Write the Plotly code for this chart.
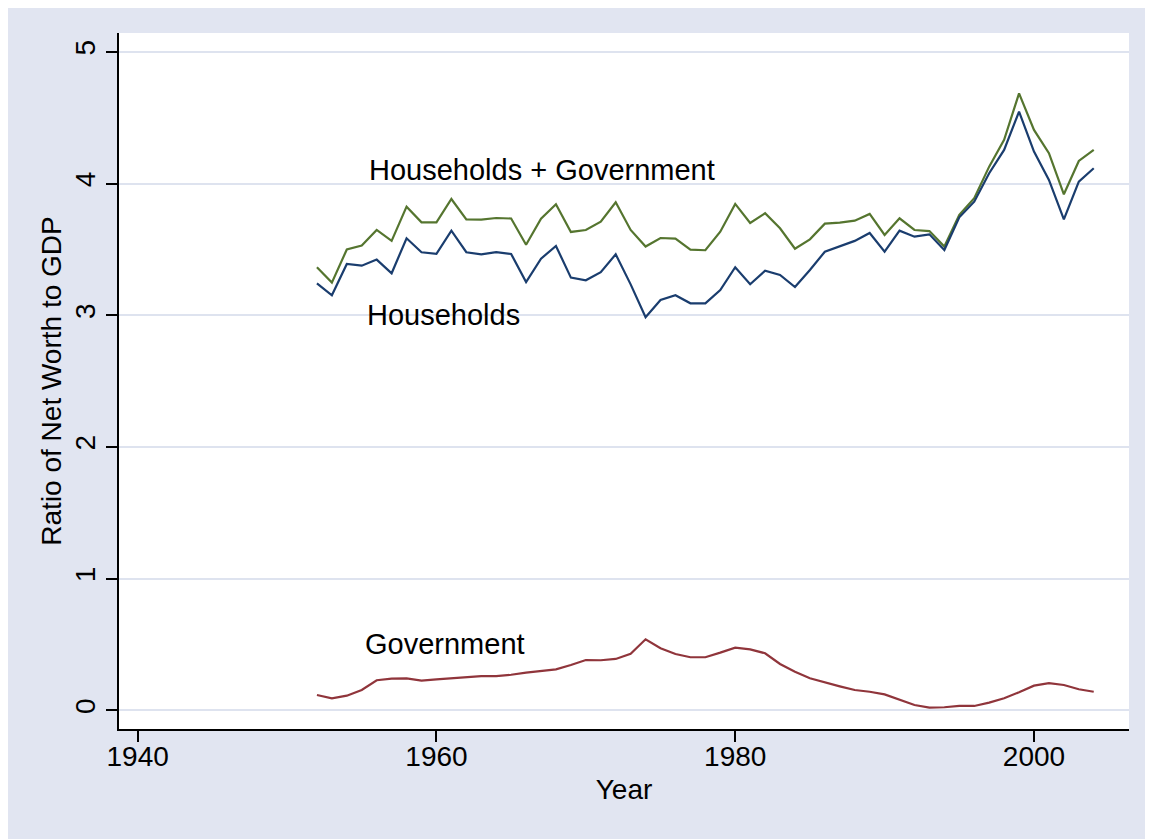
import plotly.graph_objects as go

years = list(range(1952, 2005))

households_gov = [
    3.365, 3.248, 3.50, 3.53, 3.648, 3.565, 3.825, 3.706, 3.706, 3.883,
    3.729, 3.727, 3.739, 3.735, 3.536, 3.734, 3.843, 3.633, 3.648, 3.711,
    3.858, 3.648, 3.522, 3.587, 3.582, 3.499, 3.494, 3.635, 3.846, 3.701,
    3.775, 3.661, 3.506, 3.577, 3.696, 3.704, 3.719, 3.770, 3.610, 3.737,
    3.648, 3.640, 3.522, 3.762, 3.889, 4.129, 4.332, 4.686, 4.408, 4.231,
    3.919, 4.172, 4.256,
]

households = [
    3.243, 3.152, 3.390, 3.377, 3.423, 3.319, 3.585, 3.479, 3.466, 3.643,
    3.479, 3.463, 3.479, 3.466, 3.253, 3.430, 3.527, 3.286, 3.266, 3.327,
    3.463, 3.235, 2.985, 3.116, 3.152, 3.091, 3.091, 3.192, 3.365, 3.236,
    3.339, 3.306, 3.215, 3.344, 3.483, 3.522, 3.565, 3.625, 3.483, 3.643,
    3.597, 3.615, 3.496, 3.744, 3.863, 4.079, 4.256, 4.547, 4.243, 4.028,
    3.729, 4.015, 4.117,
]

government = [
    0.116, 0.091, 0.111, 0.154, 0.228, 0.240, 0.243, 0.225, 0.235, 0.243,
    0.253, 0.260, 0.260, 0.270, 0.286, 0.301, 0.311, 0.344, 0.382, 0.380,
    0.390, 0.430, 0.539, 0.471, 0.428, 0.403, 0.403, 0.438, 0.476, 0.463,
    0.433, 0.352, 0.293, 0.243, 0.210, 0.182, 0.154, 0.141, 0.121, 0.078,
    0.040, 0.020, 0.023, 0.033, 0.033, 0.058, 0.091, 0.137, 0.187, 0.207,
    0.192, 0.160, 0.141,
]

# series label text and where it sits (year, value)
labels = [
    ("Households + Government", 1955.35, 4.10),
    ("Households", 1955.2, 3.0),
    ("Government", 1955.1, 0.50),
]

navy = "rgb(26,61,110)"
green = "rgb(85,117,47)"
maroon = "rgb(144,53,59)"
bg = "rgb(225,229,241)"
grid = "rgb(222,227,239)"
font = "Liberation Sans, Arial, sans-serif"

fig = go.Figure()
fig.add_trace(go.Scatter(x=years, y=households_gov, mode="lines",
                         line=dict(color=green, width=2.2), name="Households + Government"))
fig.add_trace(go.Scatter(x=years, y=households, mode="lines",
                         line=dict(color=navy, width=2.2), name="Households"))
fig.add_trace(go.Scatter(x=years, y=government, mode="lines",
                         line=dict(color=maroon, width=2.2), name="Government"))

for text, x, y in labels:
    fig.add_annotation(x=x, y=y, text=text, showarrow=False,
                       xanchor="left", yanchor="middle",
                       font=dict(size=29, color="black", family=font))

# the page body adds 8px, so margins are shifted to keep the plot box in place
fig.update_layout(
    width=1153,
    height=839,
    showlegend=False,
    paper_bgcolor=bg,
    plot_bgcolor="white",
    font=dict(family=font, size=28, color="black"),
    margin=dict(l=111, r=32, t=25, b=118, pad=0),
)
fig.update_xaxes(
    range=[1938.75, 2006.36],
    tickvals=[1940, 1960, 1980, 2000],
    showgrid=False, zeroline=False,
    showline=True, linecolor="black", linewidth=1.5,
    ticks="outside", ticklen=11, tickwidth=1.5, tickcolor="black",
    ticklabelstandoff=-9,
    tickfont=dict(size=28),
    title=dict(text="Year", font=dict(size=28), standoff=8),
)
fig.update_yaxes(
    range=[-0.142, 5.144],
    tickvals=[0, 1, 2, 3, 4, 5],
    tickangle=-90,
    showgrid=True, gridcolor=grid, gridwidth=1.5, zeroline=False,
    showline=True, linecolor="black", linewidth=1.5,
    ticks="outside", ticklen=11, tickwidth=1.5, tickcolor="black",
    tickfont=dict(size=28),
    title=dict(text="Ratio of Net Worth to GDP", font=dict(size=28), standoff=0),
)

fig.write_html("out.html")
